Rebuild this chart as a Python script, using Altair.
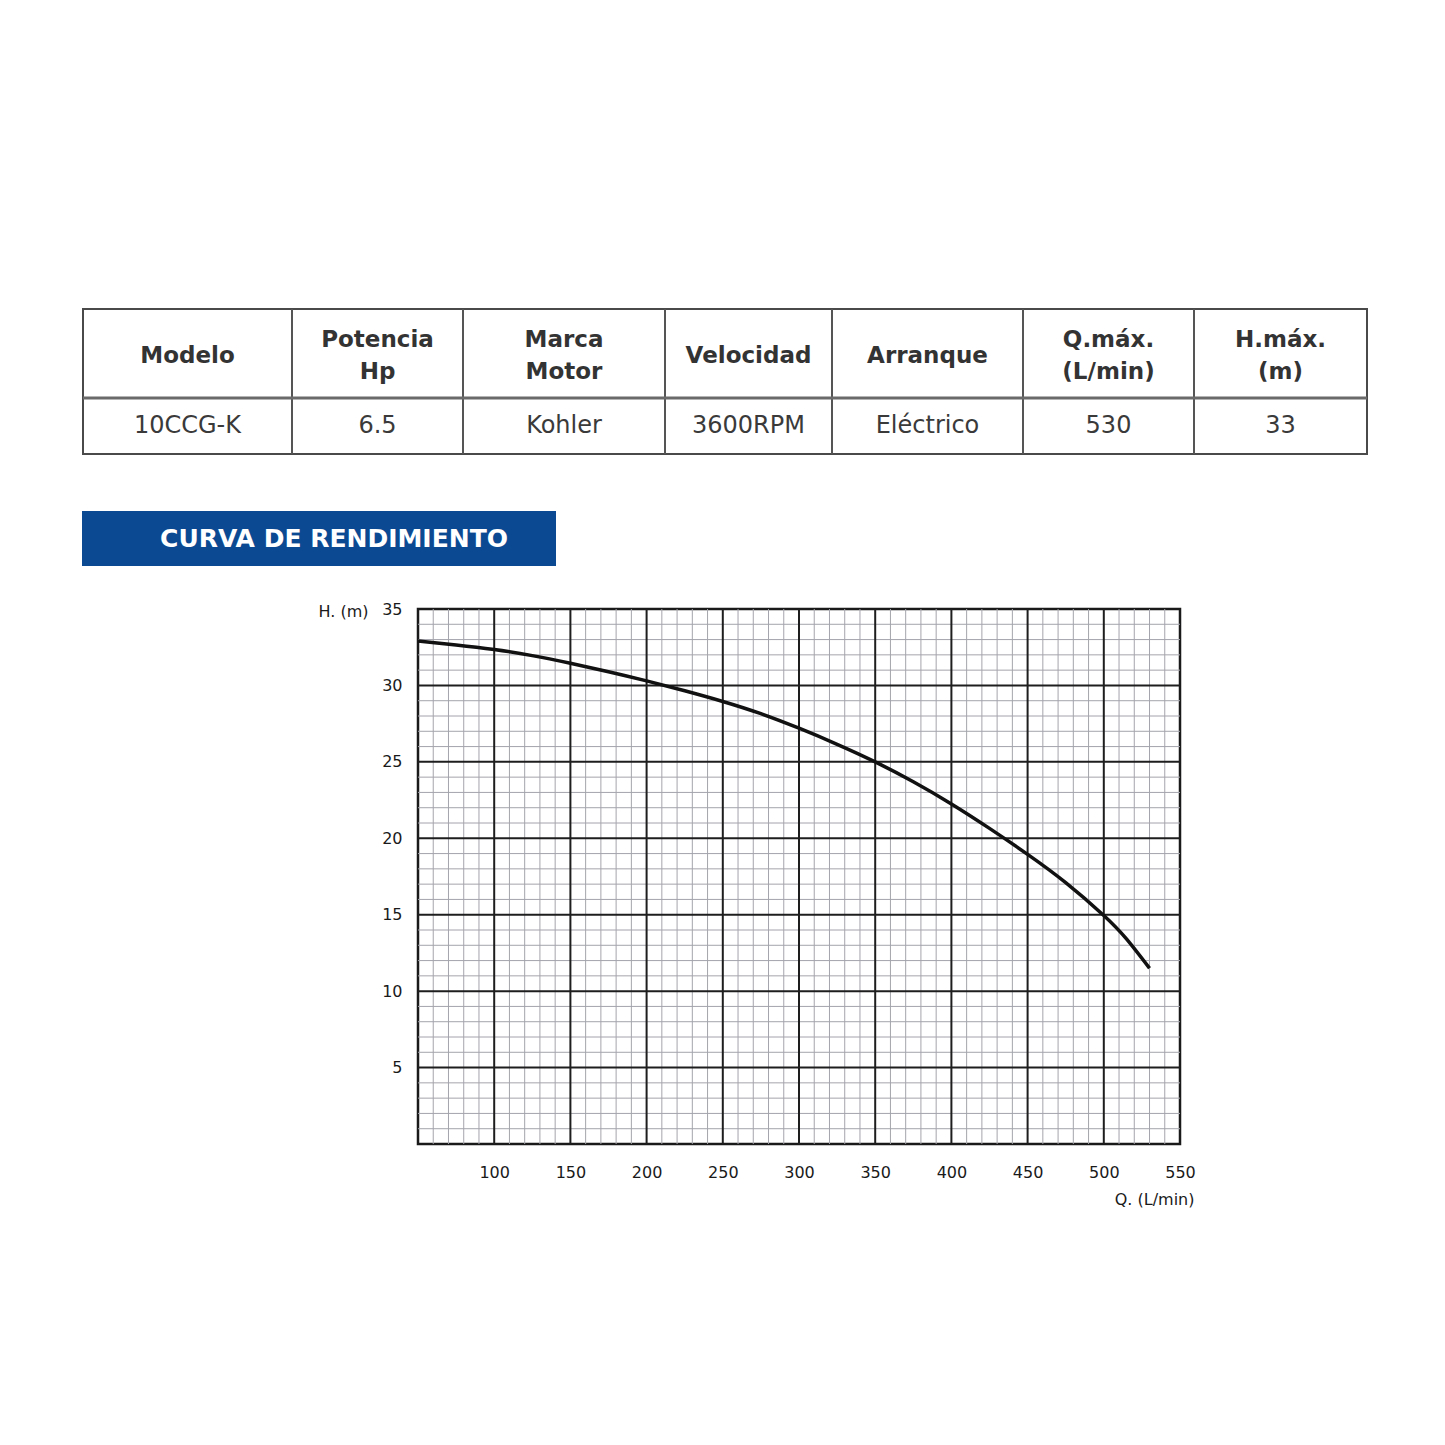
import altair as alt
import pandas as pd

# ---------------- data ----------------
headers = ["Modelo", "Potencia\nHp", "Marca\nMotor", "Velocidad", "Arranque", "Q.máx.\n(L/min)", "H.máx.\n(m)"]
row_values = ["10CCG-K", "6.5", "Kohler", "3600RPM", "Eléctrico", "530", "33"]
banner_text = "CURVA DE RENDIMIENTO"

flow_lpm = [50, 75, 100, 125, 150, 175, 200, 225, 250, 275, 300, 325, 350, 375, 400, 425, 450, 475, 500, 515, 530]
head_m = [32.9, 32.65, 32.35, 31.95, 31.45, 30.9, 30.3, 29.65, 28.95, 28.15, 27.2, 26.15, 25.0, 23.7, 22.25, 20.65, 18.95, 17.1, 14.95, 13.4, 11.5]

x_ticks = [100, 150, 200, 250, 300, 350, 400, 450, 500, 550]
y_ticks = [5, 10, 15, 20, 25, 30, 35]
x_domain = [50, 550]
y_domain = [0, 35]

# ---------------- layout (page pixels) ----------------
PAGE = 1445
PLOT_L, PLOT_T, PLOT_W, PLOT_H = 418, 609, 762, 535
col_edges = [83, 292, 463, 665, 832, 1023, 1194, 1367]
row_edges = [309, 398, 454]
banner_box = [82, 556, 511, 566]
LINE_H = 32

page_x = alt.Scale(domain=[0, PAGE], range=[-PLOT_L, PAGE - PLOT_L], nice=False, zero=False)
page_y = alt.Scale(domain=[0, PAGE], range=[-PLOT_T, PAGE - PLOT_T], nice=False, zero=False)
xs = alt.Scale(domain=x_domain, nice=False, zero=False)
ys = alt.Scale(domain=y_domain, nice=False, zero=False)

# ---------------- grid ----------------
minor_x = pd.DataFrame({"v": [v for v in range(60, 550, 10) if v % 50 != 0]})
minor_y = pd.DataFrame({"v": [v for v in range(1, 35) if v % 5 != 0]})
major_x = pd.DataFrame({"v": x_ticks[:-1]})
major_y = pd.DataFrame({"v": y_ticks[:-1]})

minor_color = "#a4a4ac"
major_color = "#1e1e1e"

g1 = alt.Chart(minor_x).mark_rule(color=minor_color, strokeWidth=1).encode(
    x=alt.X("v:Q", scale=xs, axis=None))
g2 = alt.Chart(minor_y).mark_rule(color=minor_color, strokeWidth=1).encode(
    y=alt.Y("v:Q", scale=ys, axis=None))
g3 = alt.Chart(major_x).mark_rule(color=major_color, strokeWidth=2).encode(
    x=alt.X("v:Q", scale=xs, axis=None))
g4 = alt.Chart(major_y).mark_rule(color=major_color, strokeWidth=2).encode(
    y=alt.Y("v:Q", scale=ys, axis=None))

curve_df = pd.DataFrame({"q": flow_lpm, "h": head_m})
curve = alt.Chart(curve_df).mark_line(color="#111111", strokeWidth=3.5, interpolate="natural").encode(
    x=alt.X("q:Q", scale=xs, axis=alt.Axis(
        values=x_ticks, grid=False, ticks=False, domain=False, labelFlush=False,
        labelFontSize=16, labelFont="DejaVu Sans", labelColor="#1a1a1a", labelPadding=20,
        labelOverlap=False,
        title="Q. (L/min)", titleFont="DejaVu Sans", titleFontSize=16, titleFontWeight="normal",
        titleColor="#1a1a1a", titleX=PLOT_W + 14, titleY=55, titleAlign="right",
        titleBaseline="middle")),
    y=alt.Y("h:Q", scale=ys, axis=alt.Axis(
        values=y_ticks, grid=False, ticks=False, domain=False,
        labelFontSize=16, labelFont="DejaVu Sans", labelColor="#1a1a1a", labelPadding=16,
        labelOverlap=False, labelFlush=False,
        title="H. (m)", titleFont="DejaVu Sans", titleFontSize=16, titleFontWeight="normal",
        titleColor="#1a1a1a", titleAngle=0, titleX=-50, titleY=2, titleAlign="right",
        titleBaseline="middle")),
)

# ---------------- table ----------------
centers = [(col_edges[i] + col_edges[i + 1]) / 2 for i in range(len(headers))]
head_mid = (row_edges[0] + row_edges[1]) / 2 + 2
head_cy = [head_mid - (h.count("\n")) * LINE_H / 2 for h in headers]
head_df = pd.DataFrame({"cx": centers, "cy": head_cy, "t": headers})
val_df = pd.DataFrame({"cx": centers, "cy": [(row_edges[1] + row_edges[2]) / 2] * len(row_values), "t": row_values})

vlines = pd.DataFrame({"x": col_edges[1:-1], "y1": [row_edges[0]] * 6, "y2": [row_edges[2]] * 6})
box_df = pd.DataFrame({"x1": [col_edges[0]], "x2": [col_edges[-1]], "y1": [row_edges[0]], "y2": [row_edges[2]]})
hline_df = pd.DataFrame({"x1": [col_edges[0]], "x2": [col_edges[-1]], "y": [row_edges[1]]})

t_box = alt.Chart(box_df).mark_rect(fill="white", stroke="#4a4a4a", strokeWidth=2).encode(
    x=alt.X("x1:Q", scale=page_x, axis=None), x2="x2:Q",
    y=alt.Y("y1:Q", scale=page_y, axis=None), y2="y2:Q")
t_v = alt.Chart(vlines).mark_rule(color="#555555", strokeWidth=2).encode(
    x=alt.X("x:Q", scale=page_x, axis=None),
    y=alt.Y("y1:Q", scale=page_y, axis=None), y2="y2:Q")
t_h = alt.Chart(hline_df).mark_rule(color="#6a6a6a", strokeWidth=3).encode(
    x=alt.X("x1:Q", scale=page_x, axis=None), x2="x2:Q",
    y=alt.Y("y:Q", scale=page_y, axis=None))
t_head = alt.Chart(head_df).mark_text(
    font="DejaVu Sans", fontSize=23, fontWeight="bold", color="#333333",
    lineBreak="\n", lineHeight=LINE_H, align="center", baseline="middle").encode(
    x=alt.X("cx:Q", scale=page_x, axis=None),
    y=alt.Y("cy:Q", scale=page_y, axis=None), text="t:N")
t_val = alt.Chart(val_df).mark_text(
    font="DejaVu Sans", fontSize=24, color="#3a3a3a", align="center", baseline="middle").encode(
    x=alt.X("cx:Q", scale=page_x, axis=None),
    y=alt.Y("cy:Q", scale=page_y, axis=None), text="t:N")

# ---------------- banner ----------------
ban_df = pd.DataFrame({"x1": [banner_box[0]], "x2": [banner_box[1]], "y1": [banner_box[2]], "y2": [banner_box[3]]})
ban_txt = pd.DataFrame({"cx": [334], "cy": [539], "t": [banner_text]})
b_rect = alt.Chart(ban_df).mark_rect(fill="#0b4a93").encode(
    x=alt.X("x1:Q", scale=page_x, axis=None), x2="x2:Q",
    y=alt.Y("y1:Q", scale=page_y, axis=None), y2="y2:Q")
b_text = alt.Chart(ban_txt).mark_text(
    font="DejaVu Sans", fontSize=25, fontWeight="bold", color="white",
    align="center", baseline="middle").encode(
    x=alt.X("cx:Q", scale=page_x, axis=None),
    y=alt.Y("cy:Q", scale=page_y, axis=None), text="t:N")

chart = alt.layer(
    g1, g2, g3, g4, curve, t_box, t_v, t_h, t_head, t_val, b_rect, b_text
).resolve_scale(x="independent", y="independent").properties(
    width=PLOT_W, height=PLOT_H,
    autosize=alt.AutoSizeParams(type="none"),
    padding={"left": PLOT_L, "top": PLOT_T, "right": PAGE - PLOT_L - PLOT_W, "bottom": PAGE - PLOT_T - PLOT_H},
    background="white",
).configure_view(stroke="#1a1a1a", strokeWidth=2.5)

chart.save("out.html", embed_options={"renderer": "svg", "actions": False})
